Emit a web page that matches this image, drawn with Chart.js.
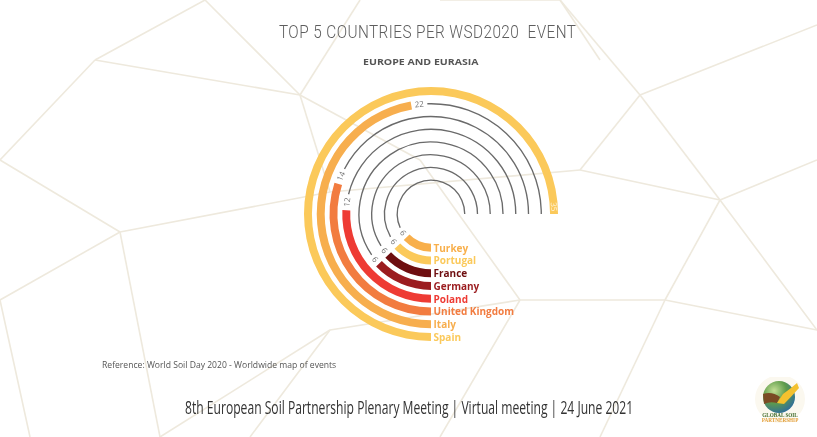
<!DOCTYPE html>
<html><head><meta charset="utf-8">
<script src="https://cdn.jsdelivr.net/npm/chart.js@4/dist/chart.umd.min.js"></script>
<style>
html,body{margin:0;padding:0;width:817px;height:437px;overflow:hidden;background:#fff;font-family:'Open Sans',sans-serif}
#bg{position:absolute;left:0;top:0}
#c{position:absolute;left:0;top:0}
.t{position:absolute;white-space:nowrap;transform-origin:0 50%;line-height:1}
#title{font-family:'Roboto',sans-serif;font-weight:300;font-size:18px;color:#5e5e5e;letter-spacing:0.5px}
#sub{font-weight:700;font-size:9px;color:#555}
#ref{font-size:9px;color:#555}
#foot{font-size:18px;color:#333}
#logo{position:absolute;left:754px;top:377px}
</style></head><body>
<svg id="bg" width="817" height="437">
<g stroke="#eee9dd" stroke-width="1.6" fill="none">
<line x1="0" y1="160" x2="95" y2="60"/><line x1="95" y1="60" x2="205" y2="0"/>
<line x1="95" y1="60" x2="300" y2="95"/><line x1="205" y1="0" x2="300" y2="95"/>
<line x1="0" y1="160" x2="120" y2="232"/><line x1="0" y1="300" x2="120" y2="232"/>
<line x1="120" y1="232" x2="160" y2="437"/><line x1="120" y1="232" x2="330" y2="192"/>
<line x1="300" y1="95" x2="330" y2="192"/><line x1="300" y1="95" x2="360" y2="0"/>
<line x1="330" y1="192" x2="580" y2="170"/><line x1="300" y1="95" x2="420" y2="160"/>
<line x1="420" y1="160" x2="520" y2="300"/><line x1="520" y1="300" x2="440" y2="437"/>
<line x1="520" y1="300" x2="665" y2="300"/><line x1="665" y1="300" x2="720" y2="200"/>
<line x1="580" y1="170" x2="720" y2="200"/><line x1="580" y1="170" x2="640" y2="95"/>
<line x1="640" y1="95" x2="560" y2="0"/><line x1="640" y1="95" x2="817" y2="25"/>
<line x1="640" y1="95" x2="720" y2="200"/><line x1="720" y1="200" x2="817" y2="160"/>
<line x1="665" y1="300" x2="817" y2="330"/><line x1="665" y1="300" x2="600" y2="437"/>
<line x1="720" y1="200" x2="817" y2="330"/><line x1="330" y1="330" x2="250" y2="437"/>
<line x1="330" y1="330" x2="160" y2="437"/><line x1="330" y1="330" x2="520" y2="300"/>
<line x1="0" y1="300" x2="30" y2="437"/><line x1="440" y1="0" x2="560" y2="0"/>
<line x1="560" y1="0" x2="600" y2="60"/>
</g>
</svg>
<canvas id="c" width="817" height="437"></canvas>
<div class="t" id="title">TOP 5 COUNTRIES PER WSD2020&nbsp; EVENT</div>
<div class="t" id="sub">EUROPE AND EURASIA</div>
<div class="t" id="ref">Reference: World Soil Day 2020 - Worldwide map of events</div>
<div class="t" id="foot">8th European Soil Partnership Plenary Meeting | Virtual meeting | 24 June 2021</div>
<svg id="logo" width="52" height="48">
<defs><radialGradient id="lg" cx="35%" cy="30%" r="75%"><stop offset="0" stop-color="#c3de95"/><stop offset="0.5" stop-color="#5f9c4a"/><stop offset="1" stop-color="#2f6e9a"/></radialGradient></defs>
<ellipse cx="26" cy="22" rx="25" ry="24" fill="#fbf8ef"/>
<circle cx="25" cy="20" r="16" fill="url(#lg)"/>
<path d="M9 17 Q18 14 26 20 L23 26 Q16 24 10 27 Z" fill="#7a4a24"/>
<path d="M23 26 L29 17 Q36 12 43 6 L45 11 Q38 19 30 27 Z" fill="#f4c12e"/>
<text x="26" y="39.5" font-size="5.2" font-family="Liberation Serif" font-weight="700" fill="#3f6b2b" text-anchor="middle">GLOBAL SOIL</text>
<text x="26" y="45" font-size="5.2" font-family="Liberation Serif" font-weight="700" fill="#e3a03c" text-anchor="middle">PARTNERSHIP</text>
</svg>
<script>
// ---- data ----
const countries = ['Spain','Italy','United Kingdom','Poland','Germany','France','Portugal','Turkey'];
const events = [35, 22, 14, 12, 6, 6, 6, 6];
const scaleMax = 35;
const colors = ['#FBC95A','#F7AE4E','#F27C40','#EE3B34','#9B1C1F','#6E0E10','#FBC95A','#F8AF4B'];

const datasets = [];
const countryIdx = [];
countries.forEach((c, i) => {
  countryIdx.push(datasets.length);
  datasets.push({label: c, data: [events[i], scaleMax - events[i]],
    backgroundColor: [colors[i], 'rgba(0,0,0,0)'], borderWidth: 0, weight: 8});
  if (i < countries.length - 1) {
    datasets.push({label: '', data: [1], backgroundColor: ['rgba(0,0,0,0)'], borderWidth: 0, weight: 4.857});
  }
});

const ringPlugin = {
  id: 'rings',
  beforeDatasetsDraw(chart) {
    const ctx = chart.ctx;
    ctx.save();
    ctx.font = '8px "Open Sans"';
    countryIdx.forEach((di, i) => {
      const meta = chart.getDatasetMeta(di);
      const bar = meta.data[0].getProps(['x','y','startAngle','endAngle','innerRadius','outerRadius'], true);
      const rest = meta.data[1].getProps(['startAngle','endAngle'], true);
      const r = (bar.innerRadius + bar.outerRadius) / 2;
      if (rest.endAngle - rest.startAngle > 0.001) {
        const w = ctx.measureText(String(events[i])).width;
        const a0 = bar.endAngle + (w + 7) / r;
        ctx.beginPath();
        ctx.strokeStyle = '#6a6a6a';
        ctx.lineWidth = 1.35;
        ctx.arc(bar.x, bar.y, r, a0, rest.endAngle);
        ctx.stroke();
      }
    });
    ctx.restore();
  },
  afterDatasetsDraw(chart) {
    const ctx = chart.ctx;
    ctx.save();
    countryIdx.forEach((di, i) => {
      const meta = chart.getDatasetMeta(di);
      const bar = meta.data[0].getProps(['x','y','startAngle','endAngle','innerRadius','outerRadius'], true);
      const rest = meta.data[1].getProps(['startAngle','endAngle'], true);
      const r = (bar.innerRadius + bar.outerRadius) / 2;
      // value label
      ctx.font = '8px "Open Sans"';
      const txt = String(events[i]);
      const w = ctx.measureText(txt).width;
      let a, col;
      if (rest.endAngle - rest.startAngle > 0.001) {
        a = bar.endAngle + (3.5 + w / 2) / r; col = '#707070';
      } else {
        a = bar.endAngle - (2.5 + w / 2) / r; col = '#fff4dc';
      }
      let rot = a + Math.PI / 2;
      let norm = ((rot % (2 * Math.PI)) + 2 * Math.PI) % (2 * Math.PI);
      if (norm > Math.PI / 2 + 0.01 && norm < 3 * Math.PI / 2) rot += Math.PI;
      ctx.save();
      ctx.translate(bar.x + r * Math.cos(a), bar.y + r * Math.sin(a));
      ctx.rotate(rot);
      ctx.fillStyle = col;
      ctx.textAlign = 'center';
      ctx.textBaseline = 'middle';
      ctx.fillText(txt, 0, 0.5);
      ctx.restore();
      // category label
      ctx.font = 'bold 10px "Open Sans"';
      ctx.fillStyle = colors[i];
      ctx.textAlign = 'left';
      ctx.textBaseline = 'middle';
      ctx.fillText(countries[i], bar.x + 2.5, bar.y + r + 1);
    });
    ctx.restore();
  }
};

new Chart(document.getElementById('c'), {
  type: 'doughnut',
  data: {labels: ['events', 'rest'], datasets},
  options: {
    responsive: false,
    animation: false,
    rotation: 180,
    circumference: 270,
    cutout: '23.4375%',
    radius: 127,
    layout: {padding: {left: 281, right: 236, top: 64, bottom: 73}},
    plugins: {legend: {display: false}, tooltip: {enabled: false}}
  },
  plugins: [ringPlugin]
});

function place(id, x, cy, targetW, centered) {
  const el = document.getElementById(id);
  const w = el.offsetWidth, h = el.offsetHeight;
  const s = targetW / w;
  el.style.transform = 'scaleX(' + s + ')';
  el.style.left = (centered ? x - targetW / 2 : x) + 'px';
  el.style.top = (cy - h / 2) + 'px';
}
function layoutText() {
  place('title', 427, 32, 297, true);
  place('sub', 421, 61, 116, true);
  place('ref', 102, 364, 234, false);
  place('foot', 185, 407, 448, false);
}
if (document.fonts && document.fonts.ready) { layoutText(); document.fonts.ready.then(layoutText); } else layoutText();
</script>
</body></html>
